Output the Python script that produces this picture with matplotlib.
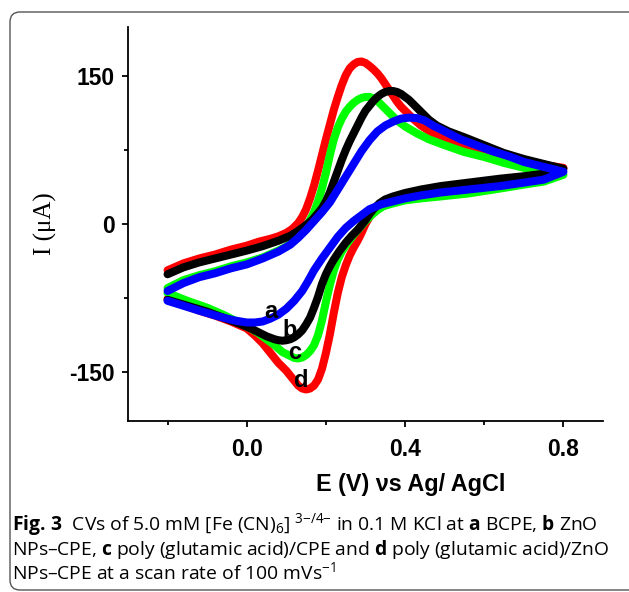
import matplotlib
matplotlib.use("Agg")
import matplotlib.pyplot as plt
from matplotlib.patches import FancyBboxPatch
from matplotlib.transforms import IdentityTransform
from matplotlib.ticker import FixedLocator

plt.rcParams['axes.unicode_minus'] = False
plt.rcParams['mathtext.fontset'] = 'custom'
plt.rcParams['mathtext.rm'] = 'Open Sans'
plt.rcParams['mathtext.bf'] = 'Open Sans:bold'
plt.rcParams['mathtext.it'] = 'Open Sans:italic'

# Curve a (BCPE) - blue: forward scan then reverse scan
E_fwd_a = [-0.20, -0.16, -0.12, -0.08, -0.04, 0.0, 0.04, 0.08, 0.11, 0.13, 0.15, 0.17, 0.19, 0.21,
           0.23, 0.25, 0.27, 0.29, 0.31, 0.33, 0.35, 0.37, 0.39, 0.41, 0.43, 0.45, 0.47, 0.50,
           0.54, 0.58, 0.62, 0.66, 0.70, 0.75, 0.80]
I_fwd_a = [-68, -60, -54, -50, -45, -41, -35, -28, -21, -14, -6, 3, 12, 22,
           35, 48, 61, 74, 85, 94, 100, 104, 107, 108, 107.5, 105, 100, 94,
           86, 80, 74, 69, 63, 58, 53]
E_rev_a = [0.80, 0.75, 0.70, 0.64, 0.56, 0.49, 0.44, 0.40, 0.37, 0.34, 0.31, 0.29, 0.27, 0.25,
           0.23, 0.21, 0.19, 0.17, 0.155, 0.14, 0.12, 0.10, 0.08, 0.06, 0.04, 0.02, 0.0,
           -0.03, -0.07, -0.12, -0.16, -0.20]
I_rev_a = [53, 45, 42, 38.5, 35, 32, 29, 26, 23, 20, 15, 9, 3, -4,
           -13, -24, -35, -47, -58, -68, -78, -86, -92, -96, -99, -100, -100,
           -98, -94, -88, -83, -78]

# Curve b (ZnO NPs-CPE) - black
E_fwd_b = [-0.20, -0.16, -0.12, -0.08, -0.04, 0.0, 0.04, 0.08, 0.11, 0.13, 0.15, 0.165, 0.18,
           0.19, 0.20, 0.21, 0.22, 0.23, 0.24, 0.25, 0.26, 0.27, 0.28, 0.29, 0.30, 0.31, 0.32,
           0.33, 0.34, 0.35, 0.36, 0.37, 0.38, 0.39, 0.40, 0.41, 0.42, 0.44, 0.46, 0.48, 0.51,
           0.55, 0.60, 0.65, 0.70, 0.75, 0.80]
I_fwd_b = [-51, -44, -39, -35, -31, -27, -22.5, -17, -12, -7, -1, 4, 11,
           16, 23, 32, 43, 54, 65, 75, 84, 92, 100, 108, 115, 120, 125,
           129, 132, 134, 135, 135, 134, 132, 129, 126, 122, 114, 106, 100, 94,
           88, 80, 72, 66, 61, 56]
E_rev_b = [0.80, 0.75, 0.70, 0.64, 0.56, 0.49, 0.44, 0.40, 0.37, 0.35, 0.335, 0.32, 0.31, 0.30,
           0.29, 0.28, 0.265, 0.25, 0.235, 0.22, 0.21, 0.20, 0.19, 0.18, 0.17, 0.16, 0.15, 0.14,
           0.13, 0.12, 0.11, 0.10, 0.09, 0.08, 0.07, 0.05, 0.03, 0.01, -0.02, -0.06, -0.10,
           -0.15, -0.20]
I_rev_b = [56, 51, 48.5, 46, 42, 38.5, 35, 31.5, 28, 25, 21, 15, 10, 4,
           -1, -6, -12, -19, -27, -36, -43, -51, -61, -74, -85, -95, -102, -108,
           -112, -115, -117, -118, -118.5, -118, -117, -114, -110, -106, -101, -95, -89,
           -83, -77]

# Curve c (poly(glutamic acid)/CPE) - green
E_fwd_c = [-0.20, -0.16, -0.12, -0.08, -0.04, 0.0, 0.04, 0.08, 0.10, 0.12, 0.135, 0.15, 0.16,
           0.17, 0.18, 0.19, 0.20, 0.21, 0.22, 0.23, 0.24, 0.25, 0.26, 0.27, 0.28, 0.29, 0.30,
           0.31, 0.32, 0.33, 0.34, 0.35, 0.36, 0.37, 0.38, 0.40, 0.43, 0.46, 0.50, 0.55, 0.60,
           0.65, 0.70, 0.75, 0.80]
I_fwd_c = [-65, -57, -52, -48, -43, -39, -34, -27, -23, -17, -10, -3, 4,
           12, 23, 36, 52, 70, 86, 98, 107, 114, 119, 123, 126, 128, 129,
           129, 127.5, 125, 121, 117, 113, 109, 105, 99, 92, 86, 80, 73, 68,
           62, 57, 53, 50]
E_rev_c = [0.80, 0.75, 0.70, 0.64, 0.56, 0.49, 0.44, 0.40, 0.37, 0.345, 0.33, 0.315, 0.30, 0.285,
           0.27, 0.255, 0.24, 0.23, 0.22, 0.21, 0.20, 0.19, 0.18, 0.17, 0.16, 0.15, 0.14, 0.13,
           0.12, 0.11, 0.09, 0.07, 0.05, 0.03, 0.01, -0.02, -0.06, -0.10, -0.15, -0.20]
I_rev_c = [50, 43, 40, 36, 31, 28, 26, 24, 21, 18, 14, 9, 3, -4,
           -11, -19, -28, -36, -47, -62, -79, -98, -113, -123, -129, -133, -135.5, -136.5,
           -136, -134, -130, -123, -117, -111, -106, -100, -92, -85, -78, -70]

# Curve d (poly(glutamic acid)/ZnO NPs-CPE) - red
E_fwd_d = [-0.20, -0.16, -0.12, -0.08, -0.04, 0.0, 0.03, 0.06, 0.08, 0.10, 0.115, 0.13, 0.14,
           0.15, 0.16, 0.17, 0.18, 0.19, 0.20, 0.21, 0.22, 0.23, 0.24, 0.25, 0.26, 0.27, 0.28,
           0.29, 0.30, 0.31, 0.32, 0.33, 0.34, 0.35, 0.36, 0.37, 0.38, 0.39, 0.40, 0.42, 0.44,
           0.47, 0.50, 0.54, 0.58, 0.62, 0.66, 0.70, 0.75, 0.80]
I_fwd_d = [-47, -40, -35, -31, -26, -22, -18, -15, -12.5, -9, -5, 1, 7,
           15, 26, 39, 54, 70, 86, 101, 116, 129, 141, 151, 158, 162, 164.5,
           165, 163.5, 160.5, 157, 153, 148, 142, 136, 130, 124, 119, 115, 107, 100,
           92, 86, 80, 75, 71, 67, 64, 60, 57]
E_rev_d = [0.80, 0.75, 0.70, 0.64, 0.56, 0.49, 0.44, 0.40, 0.37, 0.35, 0.335, 0.32, 0.31, 0.30,
           0.29, 0.28, 0.27, 0.26, 0.25, 0.24, 0.23, 0.22, 0.21, 0.20, 0.19, 0.18, 0.17, 0.16,
           0.15, 0.14, 0.13, 0.12, 0.11, 0.10, 0.08, 0.06, 0.04, 0.02, 0.0, -0.04, -0.08,
           -0.12, -0.16, -0.20]
I_rev_d = [57, 49, 46, 43, 39, 35.5, 32, 28, 24, 21, 17, 12, 7, 0,
           -9, -17, -24, -32, -42, -54, -70, -90, -112, -131, -147, -158, -164, -167,
           -168, -167, -164, -159, -154, -149, -141, -131, -121, -113, -106, -99, -93,
           -88, -82, -76]

curve_letters = ['d', 'c', 'b', 'a']
curve_colors = ['#ff0000', '#00ff00', '#000000', '#0000ff']
letter_pos = {'a': (0.062, -89), 'b': (0.109, -108), 'c': (0.122, -130), 'd': (0.138, -159)}

caption = [
    r"$\mathbf{Fig.\,3}$  CVs of 5.0 mM [Fe (CN)$_6$] $^{3{-}/4{-}}$ in 0.1 M KCl at $\mathbf{a}$ BCPE, $\mathbf{b}$ ZnO",
    r"NPs–CPE, $\mathbf{c}$ poly (glutamic acid)/CPE and $\mathbf{d}$ poly (glutamic acid)/ZnO",
    r"NPs–CPE at a scan rate of 100 mVs$^{{-}1}$",
]

curves = {
    'a': (E_fwd_a + E_rev_a, I_fwd_a + I_rev_a),
    'b': (E_fwd_b + E_rev_b, I_fwd_b + I_rev_b),
    'c': (E_fwd_c + E_rev_c, I_fwd_c + I_rev_c),
    'd': (E_fwd_d + E_rev_d, I_fwd_d + I_rev_d),
}

fig = plt.figure(figsize=(6.29, 5.92), dpi=100)
ax = fig.add_axes([128 / 629, 1 - 421 / 592, 475 / 629, 394 / 592])

for letter, color in zip(curve_letters, curve_colors):
    e, i = curves[letter]
    ax.plot(e, i, color=color, lw=5.8, solid_capstyle='round', solid_joinstyle='round')

for letter, (x, y) in letter_pos.items():
    ax.text(x, y, letter, ha='center', va='center', fontsize=17, fontweight='bold',
            family='Liberation Sans')

ax.set_xlim(-0.3, 0.9)
ax.set_ylim(-200, 200)
ax.spines['top'].set_visible(False)
ax.spines['right'].set_visible(False)
for s in ('left', 'bottom'):
    ax.spines[s].set_linewidth(1.3)

ax.xaxis.set_major_locator(FixedLocator([0.0, 0.4, 0.8]))
ax.xaxis.set_minor_locator(FixedLocator([-0.2, 0.2, 0.6]))
ax.yaxis.set_major_locator(FixedLocator([-150, 0, 150]))
ax.yaxis.set_minor_locator(FixedLocator([-75, 75]))
ax.set_xticklabels(['0.0', '0.4', '0.8'])
ax.set_yticklabels(['-150', '0', '150'])
ax.tick_params(axis='x', which='major', length=4, width=1.3, pad=8)
ax.tick_params(axis='x', which='minor', length=3, width=1.3)
ax.tick_params(axis='y', which='major', length=4.5, width=1.3, pad=5)
ax.tick_params(axis='y', which='minor', length=3, width=1.3)
for lab in ax.get_xticklabels() + ax.get_yticklabels():
    lab.set_fontsize(16.5)
    lab.set_fontweight('bold')
    lab.set_family('Liberation Sans')

fig.text(411 / 629, 1 - 485 / 592, 'E (V) νs Ag/ AgCl', ha='center', va='center',
         fontsize=16.8, fontweight='bold', family='Liberation Sans')
fig.text(45 / 629, 1 - 224 / 592, 'I (μA)', ha='center', va='center', rotation=90,
         fontsize=18, family='Liberation Serif')

baselines = [530, 555, 579]
for line, yb in zip(caption, baselines):
    fig.text(12 / 629, 1 - yb / 592, line, ha='left', va='baseline', fontsize=13.9,
             family='Open Sans')

frame = FancyBboxPatch((10, 2), 640, 578, boxstyle='round,pad=0,rounding_size=10',
                       transform=IdentityTransform(), facecolor='none',
                       edgecolor='#555555', lw=1.0)
fig.add_artist(frame)

fig.savefig('out.png', dpi=100)
